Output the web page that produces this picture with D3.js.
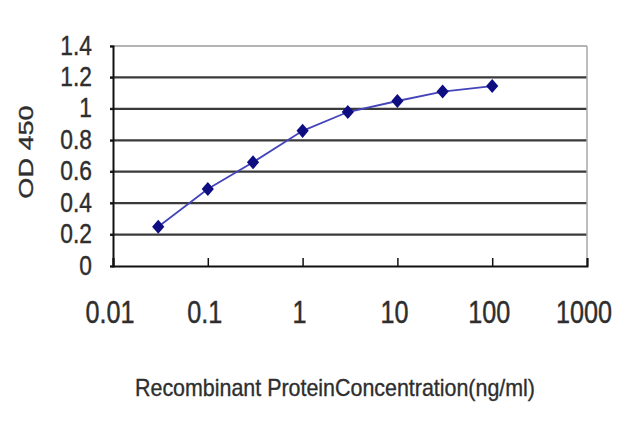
<!DOCTYPE html>
<html>
<head>
<meta charset="utf-8">
<script src="https://cdn.jsdelivr.net/npm/d3@7"></script>
<style>
html,body{margin:0;padding:0;background:#fff;}
svg{display:block;}
text{font-family:"Liberation Sans",Arial,sans-serif;fill:#2e2e2e;stroke:#2e2e2e;stroke-width:0.35;}
</style>
</head>
<body>
<svg id="chart" width="640" height="427"></svg>
<script>
const concentrations = [0.03, 0.1, 0.3, 1, 3, 10, 30, 100];
const odValues = [0.25, 0.49, 0.66, 0.86, 0.98, 1.05, 1.11, 1.145];
const xTickValues = [0.01, 0.1, 1, 10, 100, 1000];
const xTickLabels = ["0.01", "0.1", "1", "10", "100", "1000"];
const yTickValues = [0, 0.2, 0.4, 0.6, 0.8, 1, 1.2, 1.4];
const yTickLabels = ["0", "0.2", "0.4", "0.6", "0.8", "1", "1.2", "1.4"];
const yTitle = "OD 450";
const xTitle = "Recombinant ProteinConcentration(ng/ml)";

const svg = d3.select("#chart");
const L = 113, R = 587, T = 46, B = 266;
const x = d3.scaleLog().domain([0.01, 1000]).range([L, R]);
const y = d3.scaleLinear().domain([0, 1.4]).range([B, T]);

// gridlines
svg.append("g").selectAll("line").data(yTickValues.filter(v => v > 0)).join("line")
  .attr("x1", L - 3).attr("x2", R)
  .attr("y1", d => y(d)).attr("y2", d => y(d))
  .attr("stroke", d => d === 1.4 ? "#9a9a9a" : "#3a3a3a")
  .attr("stroke-width", d => d === 1.4 ? 1.5 : 2.2);

// right border
svg.append("line").attr("x1", R).attr("x2", R).attr("y1", T).attr("y2", B)
  .attr("stroke", "#a8a8a8").attr("stroke-width", 1.5);

// axes
const xAxis = d3.axisBottom(x).tickValues(xTickValues).tickSize(-8).tickFormat("");
const gx = svg.append("g").attr("transform", `translate(0,${B})`).call(xAxis);
gx.select(".domain").attr("stroke", "#111").attr("stroke-width", 2);
gx.selectAll(".tick line").attr("stroke", "#111").attr("stroke-width", 1.5);

const yAxis = d3.axisLeft(y).tickValues(yTickValues).tickSize(3).tickFormat("");
const gy = svg.append("g").attr("transform", `translate(${L},0)`).call(yAxis);
gy.select(".domain").attr("stroke", "#111").attr("stroke-width", 2);
gy.selectAll(".tick line").attr("stroke", "#111").attr("stroke-width", 1.5);

// y tick labels
svg.append("g").selectAll("text").data(yTickValues).join("text")
  .attr("transform", d => `translate(92,${y(d) + 8.5}) scale(0.95,1.15)`)
  .attr("text-anchor", "end").attr("font-size", 24)
  .text((d, i) => yTickLabels[i]);

// x tick labels
svg.append("g").selectAll("text").data(xTickValues).join("text")
  .attr("transform", d => `translate(${x(d) - 3},323) scale(0.97,1.22)`)
  .attr("text-anchor", "middle").attr("font-size", 26)
  .text((d, i) => xTickLabels[i]);

// y title
svg.append("text")
  .attr("transform", "translate(33,152) rotate(-90) scale(1.29,1)")
  .attr("text-anchor", "middle").attr("font-size", 21)
  .text(yTitle);

// x title
svg.append("text")
  .attr("x", 335).attr("y", 396)
  .attr("text-anchor", "middle").attr("font-size", 24)
  .attr("textLength", 400).attr("lengthAdjust", "spacingAndGlyphs")
  .text(xTitle);

// series line
const data = concentrations.map((c, i) => ({c, v: odValues[i]}));
svg.append("path").datum(data)
  .attr("fill", "none").attr("stroke", "#4444bb").attr("stroke-width", 1.8)
  .attr("d", d3.line().x(d => x(d.c)).y(d => y(d.v)));

// markers
svg.append("g").selectAll("path").data(data).join("path")
  .attr("transform", d => `translate(${x(d.c)},${y(d.v)}) scale(1,1.15)`)
  .attr("d", d3.symbol().type(d3.symbolDiamond2).size(95))
  .attr("fill", "#0e0e82");
</script>
</body>
</html>
